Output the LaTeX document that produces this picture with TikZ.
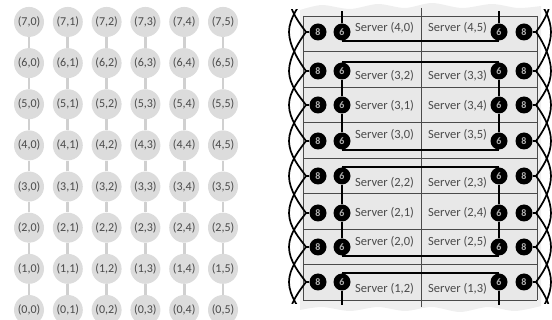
\documentclass[tikz,border=0pt]{standalone}
\usepackage{fontspec}
\setmainfont{Carlito}
\usepackage{tikz}
\usetikzlibrary{positioning}
\definecolor{meshfill}{HTML}{DCDCDC}
\definecolor{meshedge}{HTML}{D0D0D0}
\definecolor{labelgray}{HTML}{4A4A4A}
\definecolor{rackfill}{HTML}{E8E8E8}
\definecolor{tornfill}{HTML}{EFEFEF}
\definecolor{rackline}{HTML}{4A4A4A}
\definecolor{portgray}{HTML}{B0B0B0}
\tikzstyle{mnode} = [circle, fill=meshfill, minimum size=30pt, inner sep=0pt, text=labelgray, font=\fontsize{12}{13}\selectfont]
\tikzstyle{mline} = [draw=meshedge, line width=2.8pt]
\tikzstyle{pnode} = [circle, fill=black, minimum size=17pt, inner sep=0pt, text=portgray, font=\fontsize{10}{11}\selectfont\bfseries]
\tikzstyle{slabel} = [anchor=west, inner sep=0pt, text=labelgray, font=\fontsize{12.5}{13}\selectfont]
\tikzstyle{rline} = [draw=rackline, line width=0.8pt]
\tikzstyle{wire} = [draw, line width=1.9pt]
\tikzstyle{cable} = [draw, line width=1.7pt]

\begin{document}
\begin{tikzpicture}[x=1pt, y=-1pt]
	\useasboundingbox (0,0) rectangle (552,320);

	% mesh of servers
	\foreach \r in {0,...,7}
		\foreach \c in {0,...,5}
			\node [mnode] (m\r\c) at ({29+38.8*\c}, {310-41.15*\r}) {(\r,\c)};
	\foreach \r in {0,...,7}
		\foreach \c [evaluate=\c as \nc using int(\c+1)] in {0,...,4}
			\path [mline] (m\r\c) -- (m\r\nc);
	\foreach \r [evaluate=\r as \nr using int(\r+1)] in {0,...,6}
		\foreach \c in {0,...,5}
			\path [mline] (m\r\c) -- (m\nr\c);

	% rack
	\fill [tornfill] plot [smooth] coordinates {(300,10) (322,5) (350,9) (378,4) (405,8) (432,3) (462,8) (492,4) (518,8) (541,6)}
		-- (541,306) -- plot [smooth] coordinates {(541,306) (515,311) (488,307) (460,312) (432,307) (405,311) (378,307) (350,311) (322,307) (300,310)} -- cycle;
	\fill [rackfill] (303,16) rectangle (537,300);
	\foreach \y in {16,51.5,87,122.5,158,193.5,229,264.5,300}
		\path [rline] (303,\y) -- (537,\y);
	\path [rline] (303,16) -- (303,300);
	\path [rline] (537,16) -- (537,300);
	\path [rline, line width=1pt] (421,8) -- (421,307);

	\foreach \i/\y/\a/\b in {2/28/{4,0}/{4,5}, 3/76/{3,2}/{3,3}, 4/106/{3,1}/{3,4}, 5/135/{3,0}/{3,5},
			6/183/{2,2}/{2,3}, 7/213/{2,1}/{2,4}, 8/242/{2,0}/{2,5}, 9/289/{1,2}/{1,3}} {
		\node [slabel] (ls\i) at (355,\y) {Server (\a)};
		\node [slabel] (rs\i) at (428,\y) {Server (\b)};
	}

	% ports
	\foreach \i/\y in {2/32, 3/71, 4/105, 5/141, 6/176, 7/213, 8/247, 9/282} {
		\node [pnode] (lp\i) at (318,\y) {8};
		\node [pnode] (lm\i) at (342,\y) {6};
		\node [pnode] (rm\i) at (499,\y) {6};
		\node [pnode] (rp\i) at (524,\y) {8};
		\path [cable] (lp\i) -- (306,\y) coordinate (lw\i);
		\path [cable] (rp\i) -- (536,\y) coordinate (rw\i);
	}
	\foreach \i/\y in {0/-40, 1/-4, 10/318, 11/354} {
		\coordinate (lw\i) at (306,\y);
		\coordinate (rw\i) at (536,\y);
	}
	\foreach \i/\y in {1/-4, 2/32, 3/71, 4/105, 5/141, 6/176, 7/213, 8/247, 9/282, 10/318} {
		\coordinate (lb\i) at (289,\y);
		\coordinate (rb\i) at (551,\y);
	}

	% cables between the 8-ports
	\begin{scope}
		\clip (270,10) rectangle (552,304);
		\foreach \i in {0,...,9} {
			\pgfmathtruncatemacro{\j}{\i+1}
			\pgfmathtruncatemacro{\k}{\i+2}
			\path [cable] (lw\i) .. controls +(-6,8) and +(0,-14) .. (lb\j) .. controls +(0,14) and +(-6,-8) .. (lw\k);
			\path [cable] (rw\i) .. controls +(6,8) and +(0,-14) .. (rb\j) .. controls +(0,14) and +(6,-8) .. (rw\k);
		}
	\end{scope}

	% wires between the 6-ports
	\coordinate (lt) at (342,11);
	\coordinate (rt) at (499,11);
	\coordinate (lbt) at (342,305);
	\coordinate (rbt) at (499,305);
	\path [wire] (lm2) -- (lt);
	\path [wire] (rm2) -- (rt);
	\path [wire] (lm9) -- (lbt);
	\path [wire] (rm9) -- (rbt);
	\path [wire] (lm3) -- (lm4) -- (lm5);
	\path [wire] (rm3) -- (rm4) -- (rm5);
	\path [wire] (lm6) -- (lm7) -- (lm8);
	\path [wire] (rm6) -- (rm7) -- (rm8);
	\path [wire] (lm2.south) -- (rm2.south);
	\path [wire] (lm3.north) -- (rm3.north);
	\path [wire] (lm5.south) -- (rm5.south);
	\path [wire] (lm6.north) -- (rm6.north);
	\path [wire] (lm8.south) -- (rm8.south);
	\path [wire] (lm9.north) -- (rm9.north);
\end{tikzpicture}
\end{document}
